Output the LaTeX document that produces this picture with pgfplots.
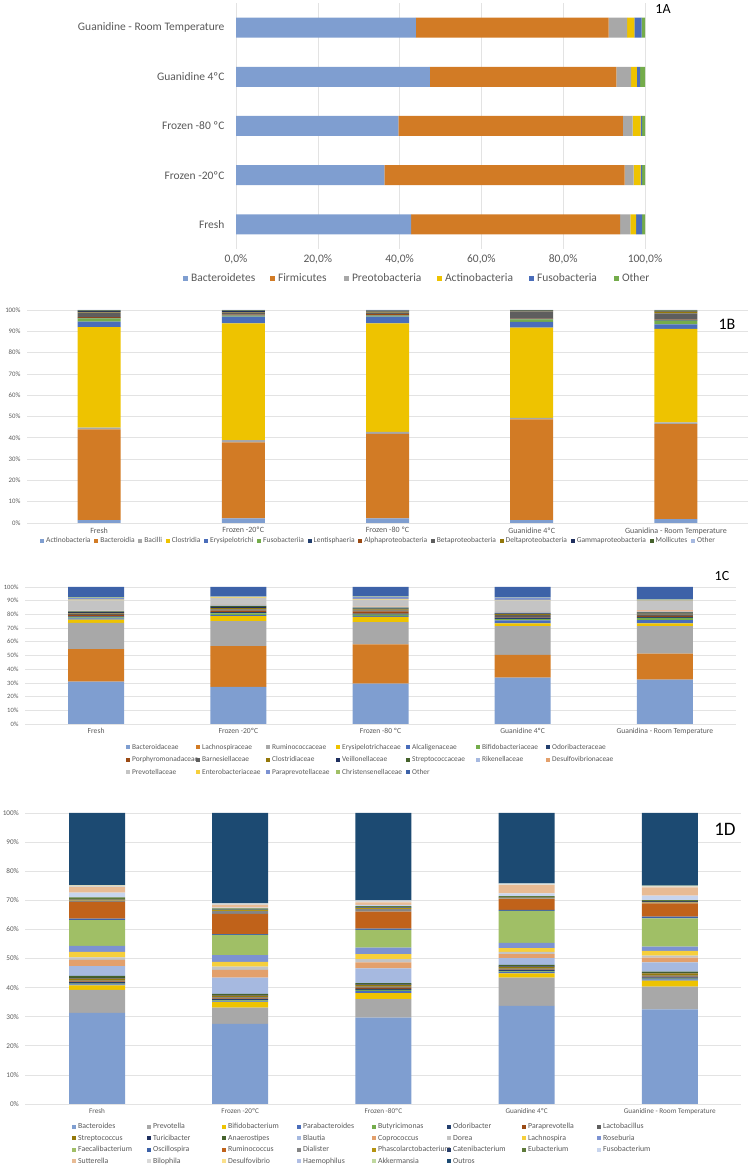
\documentclass[border=0pt]{standalone}
\usepackage{pgfplots}
\usepackage{pgfplotstable}
\pgfplotsset{compat=1.18}
\usepackage{fontspec}
\setmainfont{Carlito}

% series colours, in the order the spreadsheet hands them out
\definecolor{P1}{HTML}{7F9ED0}
\definecolor{P2}{HTML}{D27B25}
\definecolor{P3}{HTML}{A8A8A8}
\definecolor{P4}{HTML}{EEC300}
\definecolor{P5}{HTML}{4A6DBA}
\definecolor{P6}{HTML}{74AC4B}
\definecolor{P7}{HTML}{233F6E}
\definecolor{P8}{HTML}{9A4A14}
\definecolor{P9}{HTML}{5E5E5E}
\definecolor{P10}{HTML}{94780A}
\definecolor{P11}{HTML}{1F2F5E}
\definecolor{P12}{HTML}{45622C}
\definecolor{P13}{HTML}{A6B9E0}
\definecolor{P14}{HTML}{E3A06C}
\definecolor{P15}{HTML}{C4C4C4}
\definecolor{P16}{HTML}{F6CF3C}
\definecolor{P17}{HTML}{7C92D2}
\definecolor{P18}{HTML}{A0BF66}
\definecolor{P19}{HTML}{3D62A8}
\definecolor{P20}{HTML}{C0621A}
\definecolor{P21}{HTML}{858585}
\definecolor{P22}{HTML}{B59310}
\definecolor{P23}{HTML}{2A3F6A}
\definecolor{P24}{HTML}{5E7A3A}
\definecolor{P25}{HTML}{C8D5EE}
\definecolor{P26}{HTML}{E8BB94}
\definecolor{P27}{HTML}{D9D9D9}
\definecolor{P28}{HTML}{FBE08A}
\definecolor{P29}{HTML}{B0BEE4}
\definecolor{P30}{HTML}{BFD89E}
\definecolor{P31}{HTML}{1C4A72}
\definecolor{tc}{HTML}{595959}
\definecolor{gridc}{HTML}{E3E3E3}

\pgfplotsset{
  panel/.style={
    scale only axis, anchor=south west,
    axis line style={draw=none}, tick style={draw=none},
    major grid style={draw=gridc, line width=0.6pt},
    tick label style={text=tc},
    legend cell align=left,
    every axis plot/.append style={draw=none},
  },
  sq/.style={legend image code/.code={\fill[##1,draw=none] (0pt,-#1) rectangle (2*#1,#1);}},
}

% 1A phylum (Fresh, Frozen -20, Frozen -80, Guanidine 4, Guanidine RT)
\pgfplotstableread{
c s1 s2 s3 s4 s5 s6
0 42.8 51.1 2.5 1.4 1.5 0.7
1 36.3 58.7 2.2 1.7 0.4 0.7
2 39.7 54.9 2.4 1.9 0.4 0.7
3 47.4 45.6 3.6 1.4 0.8 1.2
4 44.0 47.1 4.5 1.8 1.8 0.8
}\tabA

% 1B class
\pgfplotstableread{
c s1 s2 s3 s4 s5 s6 s7 s8 s9 s10 s11 s12 s13
0 1.3 42.7 0.8 47.2 2.5 1.6 0.2 0.3 2.2 0.3 0.5 0.2 0.2
1 2.2 35.6 1.1 54.8 3.2 0.4 0.2 0.3 1.0 0.2 0.6 0.2 0.2
2 2.2 39.6 1.0 50.9 3.2 0.4 0.2 0.5 0.8 0.4 0.5 0.1 0.2
3 1.3 47.3 0.8 42.3 2.7 1.2 0.2 0.2 3.4 0.2 0.1 0.2 0.1
4 1.8 44.6 0.8 43.9 2.2 1.7 0.2 0.3 2.9 0.8 0.3 0.3 0.2
}\tabB

% 1C family
\pgfplotstableread{
c s1 s2 s3 s4 s5 s6 s7 s8 s9 s10 s11 s12 s13 s14 s15 s16 s17 s18 s19
0 31.0 23.7 19.1 2.3 1.0 0.8 0.6 1.2 0.8 0.6 0.5 0.6 0.5 0.3 7.2 0.6 1.3 0.4 7.5
1 27.1 29.8 18.2 3.6 0.8 1.2 1.0 1.0 1.0 0.8 0.9 0.8 0.4 0.4 4.8 0.6 0.5 0.3 6.8
2 29.5 28.6 16.2 3.9 0.7 1.0 0.7 1.6 0.8 0.6 0.7 0.7 0.3 0.3 5.2 0.6 1.6 0.3 6.7
3 33.9 16.5 21.0 2.0 2.2 1.0 1.0 0.6 1.5 0.5 0.5 0.4 0.4 0.3 8.5 0.3 1.6 0.3 7.5
4 32.4 18.9 20.1 2.0 2.4 1.6 0.8 0.8 1.0 0.6 0.6 0.4 0.4 1.0 6.8 0.3 0.7 0.4 8.8
}\tabC

% 1D genus (column s2 is unused, so that column k takes colour Pk)
\pgfplotstableread{
c s1 s2 s3 s4 s5 s6 s7 s8 s9 s10 s11 s12 s13 s14 s15 s16 s17 s18 s19 s20 s21 s22 s23 s24 s25 s26 s27 s28 s29 s30 s31
0 31.3 0 7.9 1.6 0.3 0.3 0.5 0.2 0.3 0.7 0.2 0.7 3.4 2.1 0.9 1.9 2.0 8.9 0.5 5.8 0.4 0.3 0.2 0.6 1.6 2.0 0.3 0.1 0.1 0.1 24.8
1 27.5 0 5.6 1.9 0.3 0.3 0.4 0.3 0.3 0.6 0.2 0.4 5.6 2.7 1.1 1.6 2.4 6.9 0.3 6.9 1.0 0.3 0.2 0.4 0.3 0.9 0.3 0.1 0.1 0.1 31.0
2 29.7 0 6.3 2.1 0.8 0.3 0.4 0.4 0.3 0.6 0.2 0.4 5.1 2.1 1.1 1.7 2.2 6.1 0.5 5.8 0.9 0.3 0.3 0.4 0.4 0.9 0.4 0.1 0.2 0.1 29.9
3 33.7 0 9.7 1.5 0.4 0.3 0.4 0.2 0.3 0.6 0.2 0.5 2.3 1.4 0.8 1.3 1.8 11.0 0.3 3.7 0.3 0.2 0.2 0.3 1.0 2.8 0.3 0.1 0.1 0.1 24.2
4 32.5 0 7.8 2.1 0.4 0.3 0.4 0.3 0.3 0.8 0.2 0.4 3.2 1.6 0.7 1.6 1.5 9.7 0.6 4.5 0.3 0.3 0.2 0.4 1.5 2.8 0.3 0.1 0.1 0.1 25.0
}\tabD

\begin{document}
\begin{tikzpicture}
\useasboundingbox (0,0) rectangle (750pt,1169pt);

% ---------- 1A ----------
\begin{axis}[
  xbar stacked, panel, sq=2.5pt,
  at={(236pt,920pt)}, width=409pt, height=246pt,
  bar width=20pt,
  xmin=0, xmax=100, ymin=-0.5, ymax=4.5,
  xtick={0,20,...,100},
  xticklabels={{0,0\%},{20,0\%},{40,0\%},{60,0\%},{80,0\%},{100,0\%}},
  ytick={0,...,4},
  yticklabels={Fresh,Frozen -20ºC,Frozen -80 ºC,Guanidine 4ºC,Guanidine - Room Temperature},
  xmajorgrids,
  tick label style={font=\fontsize{11.5}{14}\selectfont},
  xticklabel style={yshift=-2pt},
  yticklabel style={xshift=-8pt},
  legend columns=6,
  legend style={at={(-0.13,-0.118)}, anchor=west, draw=none, fill=none, inner sep=0pt,
    font=\fontsize{11.5}{14}\selectfont, text=tc, column sep=2pt, nodes={inner sep=1pt}},
  legend entries={\makebox[76pt][l]{Bacteroidetes},\makebox[63pt][l]{Firmicutes},
    \makebox[82pt][l]{Preotobacteria},\makebox[81pt][l]{Actinobacteria},
    \makebox[74pt][l]{Fusobacteria},Other},
]
\pgfplotsinvokeforeach{1,...,6}{\addplot[fill=P#1] table[y=c, x index=#1] {\tabA};}
\end{axis}
\node[font=\fontsize{14}{16}\selectfont] at (663pt,1160pt) {1A};

% ---------- 1B ----------
\begin{axis}[
  ybar stacked, panel, sq=2pt,
  at={(27pt,646pt)}, width=721pt, height=213pt,
  bar width=43pt,
  xmin=-0.5, xmax=4.5, ymin=0, ymax=100,
  xtick={0,...,4},
  xticklabels={Fresh,Frozen -20ºC,Frozen -80 ºC,Guanidine 4ºC,Guanidina - Room Temperature},
  ytick={0,10,...,100},
  yticklabels={0\%,10\%,20\%,30\%,40\%,50\%,60\%,70\%,80\%,90\%,100\%},
  ymajorgrids,
  tick label style={font=\fontsize{6.8}{8}\selectfont},
  xticklabel style={yshift=-1pt, font=\fontsize{8}{9}\selectfont},
  yticklabel style={xshift=-3pt},
  legend columns=13,
  legend style={at={(0.018,-0.0845)}, anchor=west, draw=none, fill=none, inner sep=0pt,
    font=\fontsize{7.5}{9}\selectfont, text=tc, column sep=1.5pt, nodes={inner sep=0.5pt},
    /tikz/every even column/.append style={column sep=3.2pt}},
  legend entries={Actinobacteria,Bacteroidia,Bacilli,Clostridia,Erysipelotrichi,Fusobacteriia,
    Lentisphaeria,Alphaproteobacteria,Betaproteobacteria,Deltaproteobacteria,
    Gammaproteobacteria,Mollicutes,Other},
]
\pgfplotsinvokeforeach{1,...,13}{\addplot[fill=P#1] table[x=c, y index=#1] {\tabB};}
\end{axis}
\node[font=\fontsize{16}{18}\selectfont] at (727pt,845pt) {1B};

% ---------- 1C ----------
\begin{axis}[
  ybar stacked, panel, sq=2pt,
  at={(25pt,445pt)}, width=711pt, height=137pt,
  bar width=56pt,
  xmin=-0.5, xmax=4.5, ymin=0, ymax=100,
  xtick={0,...,4},
  xticklabels={Fresh,Frozen -20ºC,Frozen -80 ºC,Guanidine 4ºC,Guanidina - Room Temperature},
  ytick={0,10,...,100},
  yticklabels={0\%,10\%,20\%,30\%,40\%,50\%,60\%,70\%,80\%,90\%,100\%},
  ymajorgrids,
  tick label style={font=\fontsize{6.5}{8}\selectfont},
  xticklabel style={yshift=-1pt, font=\fontsize{7.6}{9}\selectfont},
  yticklabel style={xshift=-3pt},
  legend columns=7,
  legend style={at={(0.142,-0.139)}, anchor=north west, draw=none, fill=none, inner sep=0pt,
    font=\fontsize{7.4}{9}\selectfont, text=tc, column sep=1.5pt, row sep=4pt,
    nodes={inner sep=0.5pt, text width=62pt, align=left, text height=5.7pt, text depth=1.8pt}},
  legend entries={Bacteroidaceae,Lachnospiraceae,Ruminococcaceae,Erysipelotrichaceae,
    Alcaligenaceae,Bifidobacteriaceae,Odoribacteraceae,Porphyromonadaceae,Barnesiellaceae,
    Clostridiaceae,Veillonellaceae,Streptococcaceae,Rikenellaceae,Desulfovibrionaceae,
    Prevotellaceae,Enterobacteriaceae,Paraprevotellaceae,Christensenellaceae,Other},
]
\pgfplotsinvokeforeach{1,...,19}{\addplot[fill=P#1] table[x=c, y index=#1] {\tabC};}
\end{axis}
\node[font=\fontsize{14}{16}\selectfont] at (722pt,593pt) {1C};

% ---------- 1D ----------
\begin{axis}[
  ybar stacked, panel, sq=2pt,
  at={(25.4pt,65pt)}, width=716pt, height=291pt,
  bar width=56pt,
  xmin=-0.5, xmax=4.5, ymin=0, ymax=100,
  xtick={0,...,4},
  xticklabels={Fresh,Frozen -20ºC,Frozen -80ºC,Guanidine 4ºC,Guanidine - Room Temperature},
  ytick={0,10,...,100},
  yticklabels={0\%,10\%,20\%,30\%,40\%,50\%,60\%,70\%,80\%,90\%,100\%},
  ymajorgrids,
  tick label style={font=\fontsize{7.2}{8}\selectfont},
  xticklabel style={yshift=-1pt},
  yticklabel style={xshift=-3pt},
  legend columns=8,
  legend style={at={(0.065,-0.0627)}, anchor=north west, draw=none, fill=none, inner sep=0pt,
    font=\fontsize{7.8}{9}\selectfont, text=tc, column sep=1.5pt, row sep=2.7pt,
    nodes={inner sep=0.5pt, text width=67pt, align=left, text height=6pt, text depth=1.8pt}},
  legend entries={Bacteroides,Prevotella,Bifidobacterium,Parabacteroides,Butyricimonas,
    Odoribacter,Paraprevotella,Lactobacillus,Streptococcus,Turicibacter,Anaerostipes,Blautia,
    Coprococcus,Dorea,Lachnospira,Roseburia,Faecalibacterium,Oscillospira,Ruminococcus,
    Dialister,Phascolarctobacterium,Catenibacterium,Eubacterium,Fusobacterium,Sutterella,
    Bilophila,Desulfovibrio,Haemophilus,Akkermansia,Outros},
]
\pgfplotsinvokeforeach{1,3,4,5,6,7,8,9,10,11,12,13,14,15,16,17,18,19,20,21,22,23,24,25,26,27,28,29,30,31}{\addplot[fill=P#1] table[x=c, y index=#1] {\tabD};}
\end{axis}
\node[font=\fontsize{19}{21}\selectfont] at (725pt,340pt) {1D};

\end{tikzpicture}
\end{document}
